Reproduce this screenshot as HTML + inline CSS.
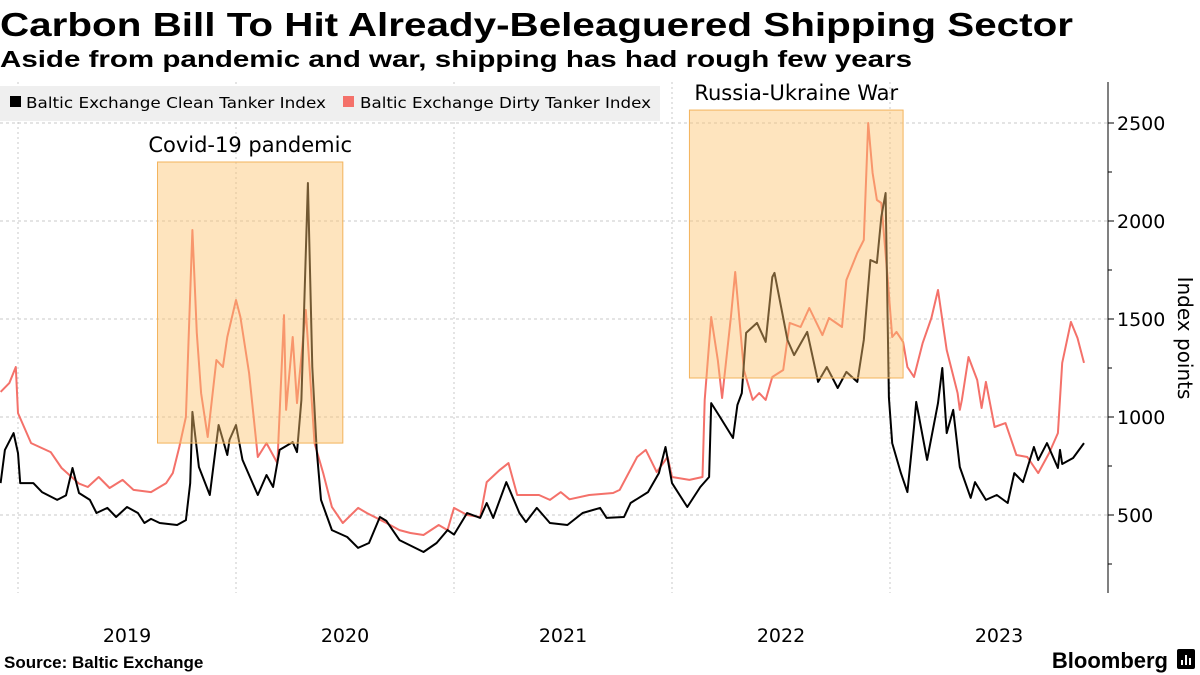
<!DOCTYPE html>
<html><head><meta charset="utf-8"><style>
html,body{margin:0;padding:0;background:#fff;}
svg{display:block;font-family:"Liberation Sans",sans-serif;}
.dv{font-family:"DejaVu Sans","Liberation Sans",sans-serif;}
</style></head><body>
<svg id="chart" width="1200" height="675" viewBox="0 0 1200 675">
<text x="0" y="36" font-size="33" font-weight="bold" textLength="1073" lengthAdjust="spacingAndGlyphs">Carbon Bill To Hit Already-Beleaguered Shipping Sector</text>
<text x="0" y="67" font-size="23" font-weight="bold" textLength="912" lengthAdjust="spacingAndGlyphs">Aside from pandemic and war, shipping has had rough few years</text>
<g id="grid"></g>
<g id="series"></g>
<g id="boxes"></g>
<g>
<rect x="0" y="86" width="660" height="35" fill="#efefef"/>
<rect x="10" y="96" width="11" height="11" fill="#000"/>
<text class="dv" x="26" y="108" font-size="15" textLength="300" lengthAdjust="spacingAndGlyphs">Baltic Exchange Clean Tanker Index</text>
<rect x="343" y="96" width="11" height="11" fill="#f4716a"/>
<text class="dv" x="360" y="108" font-size="15" textLength="291" lengthAdjust="spacingAndGlyphs">Baltic Exchange Dirty Tanker Index</text>
</g>
<g id="yaxis"></g>
<g id="xaxis"></g>
<text class="dv" transform="translate(1178,338) rotate(90)" text-anchor="middle" font-size="20">Index points</text>
<text x="4" y="668" font-size="17" font-weight="bold">Source: Baltic Exchange</text>
<text x="1168" y="668" font-size="22" font-weight="bold" text-anchor="end">Bloomberg</text>
<g><rect x="1177" y="649" width="18" height="20" rx="2" fill="#000"/><rect x="1181" y="660" width="2" height="5" fill="#fff"/><rect x="1185" y="655" width="2" height="10" fill="#fff"/><rect x="1189" y="658" width="2" height="7" fill="#fff"/></g>
</svg>
<script>
const cleanDates=[2018.92,2018.94,2018.98,2019.00,2019.01,2019.07,2019.11,2019.18,2019.22,2019.25,2019.28,2019.33,2019.36,2019.41,2019.45,2019.50,2019.55,2019.58,2019.61,2019.65,2019.73,2019.77,2019.79,2019.80,2019.83,2019.88,2019.92,2019.96,2019.97,2020.00,2020.03,2020.10,2020.14,2020.17,2020.20,2020.26,2020.28,2020.30,2020.33,2020.35,2020.37,2020.39,2020.44,2020.51,2020.56,2020.61,2020.66,2020.69,2020.75,2020.86,2020.92,2020.97,2021.00,2021.06,2021.12,2021.15,2021.18,2021.24,2021.30,2021.33,2021.38,2021.44,2021.52,2021.59,2021.67,2021.70,2021.78,2021.81,2021.89,2021.94,2021.97,2022.00,2022.07,2022.13,2022.17,2022.18,2022.22,2022.28,2022.30,2022.32,2022.34,2022.39,2022.43,2022.46,2022.47,2022.53,2022.56,2022.62,2022.67,2022.71,2022.76,2022.80,2022.85,2022.88,2022.91,2022.94,2022.96,2022.98,2022.995,2023.01,2023.05,2023.08,2023.11,2023.12,2023.17,2023.22,2023.24,2023.26,2023.29,2023.32,2023.37,2023.39,2023.44,2023.49,2023.54,2023.57,2023.61,2023.66,2023.68,2023.72,2023.77,2023.78,2023.79,2023.84,2023.89];
const cleanValues=[663,832,918,816,663,663,617,577,600,740,612,577,510,536,490,541,510,459,480,459,449,474,663,1026,745,602,959,806,883,959,781,602,704,643,832,872,821,1087,2194,1255,832,577,423,388,332,357,490,470,372,311,357,423,400,510,485,561,485,668,510,464,536,459,449,510,536,485,490,561,617,714,847,663,541,643,694,1071,1000,893,1061,1122,1429,1480,1383,1714,1735,1393,1316,1434,1179,1255,1148,1230,1179,1393,1801,1786,2020,2143,1100,867,714,617,949,1077,781,1071,1250,918,1036,745,587,668,577,602,561,714,668,847,780,867,740,832,760,791,867];
const dirtyDates=[2018.92,2018.96,2018.99,2019.00,2019.06,2019.15,2019.20,2019.28,2019.32,2019.37,2019.42,2019.48,2019.53,2019.61,2019.68,2019.71,2019.74,2019.77,2019.80,2019.82,2019.84,2019.87,2019.91,2019.94,2019.96,2020.00,2020.02,2020.06,2020.10,2020.14,2020.19,2020.22,2020.23,2020.26,2020.28,2020.32,2020.36,2020.40,2020.44,2020.49,2020.56,2020.60,2020.69,2020.75,2020.80,2020.86,2020.93,2020.97,2021.00,2021.06,2021.12,2021.15,2021.21,2021.25,2021.29,2021.39,2021.44,2021.49,2021.53,2021.62,2021.73,2021.76,2021.84,2021.88,2021.93,2021.98,2022.00,2022.08,2022.14,2022.15,2022.18,2022.21,2022.23,2022.27,2022.29,2022.33,2022.37,2022.40,2022.43,2022.46,2022.51,2022.54,2022.59,2022.63,2022.69,2022.72,2022.78,2022.80,2022.85,2022.88,2022.90,2022.92,2022.94,2022.96,2022.99,2023.01,2023.03,2023.06,2023.08,2023.11,2023.15,2023.19,2023.22,2023.26,2023.31,2023.32,2023.33,2023.36,2023.40,2023.42,2023.44,2023.48,2023.53,2023.58,2023.63,2023.68,2023.73,2023.77,2023.79,2023.83,2023.86,2023.89];
const dirtyValues=[1128,1173,1255,1020,867,821,740,660,643,694,638,679,628,617,663,714,847,1000,1954,1429,1122,898,1291,1255,1408,1597,1510,1224,796,867,765,1520,1036,1408,1071,1546,867,714,541,459,536,510,459,423,408,398,449,423,536,500,490,668,730,765,602,602,577,617,580,602,612,628,796,832,719,796,694,679,694,1087,1510,1291,1097,1510,1740,1240,1087,1122,1087,1204,1240,1480,1459,1556,1418,1505,1459,1699,1837,1903,2500,2245,2107,2092,1699,1408,1434,1383,1255,1204,1378,1505,1648,1342,1122,1036,1087,1306,1189,1046,1179,949,969,806,796,714,816,918,1276,1485,1403,1276];
const yTicks=[500,1000,1500,2000,2500];
const yearLabels=["2019","2020","2021","2022","2023"];
const yearStarts=[2019,2020,2021,2022,2023,2024];
const boxStart=[2019.64,2022.08];
const boxEnd=[2020.49,2023.06];
const boxTop=[2301,2566];
const boxBottom=[867,1199];
const boxLabels=["Covid-19 pandemic","Russia-Ukraine War"];

const NS="http://www.w3.org/2000/svg";
const X=t=>18+(t-2019)*218;
const Y=v=>515-(v-500)*0.196;
function mk(tag,attrs,parent){const e=document.createElementNS(NS,tag);for(const k in attrs)e.setAttribute(k,attrs[k]);parent.appendChild(e);return e;}
const grid=document.getElementById('grid'),series=document.getElementById('series'),boxes=document.getElementById('boxes'),yaxis=document.getElementById('yaxis'),xaxis=document.getElementById('xaxis');

yTicks.forEach(v=>{
  const l=mk('line',{x1:0,x2:1108,y1:Y(v),y2:Y(v),stroke:'#c8c8c8','stroke-width':1,'stroke-dasharray':'3,3'},grid);
  
  
  const tk=mk('line',{x1:1108,x2:1114,y1:Y(v),y2:Y(v),stroke:'#000','stroke-width':1},yaxis);
  
  
  const t=mk('text',{x:1117,y:Y(v)+7,'font-size':19,'class':'dv'},yaxis);t.textContent=v;
  
  
});
[250,750,1250,1750,2250].forEach(v=>{
  const tk=mk('line',{x1:1108,x2:1112,y1:Y(v),y2:Y(v),stroke:'#000','stroke-width':1},yaxis);
  
  
});
const ax=mk('line',{x1:1108,x2:1108,y1:82,y2:593,stroke:'#000','stroke-width':1},yaxis);


yearStarts.forEach(y=>{
  if(X(y)>1100)return;
  const l=mk('line',{x1:X(y),x2:X(y),y1:82,y2:593,stroke:'#c8c8c8','stroke-width':1,'stroke-dasharray':'2,3'},grid);
  
  
});
yearLabels.forEach((s,i)=>{
  const t=mk('text',{x:X(yearStarts[i]+0.5),y:642,'font-size':19,'text-anchor':'middle','class':'dv'},xaxis);t.textContent=s;
  
  
});
function line(d,v,col,name){
  const p=d.map((t,i)=>(i?'L':'M')+X(t).toFixed(1)+','+Y(v[i]).toFixed(1)).join('');
  const e=mk('path',{d:p,fill:'none',stroke:col,'stroke-width':2,'stroke-linejoin':'round'},series);
  
  
}
line(dirtyDates,dirtyValues,'#f4716a','dirty-tanker-line');
line(cleanDates,cleanValues,'#000','clean-tanker-line');
boxStart.forEach((s,i)=>{
  const r=mk('rect',{x:X(s),y:Y(boxTop[i]),width:X(boxEnd[i])-X(s),height:Y(boxBottom[i])-Y(boxTop[i]),fill:'rgba(253,196,110,0.45)',stroke:'#f3b35c','stroke-width':1},boxes);
  
  
  const t=mk('text',{x:(X(s)+X(boxEnd[i]))/2,y:Y(boxTop[i])-10,'font-size':21,'text-anchor':'middle','class':'dv'},boxes);t.textContent=boxLabels[i];
  
  
});
</script>
</body></html>
